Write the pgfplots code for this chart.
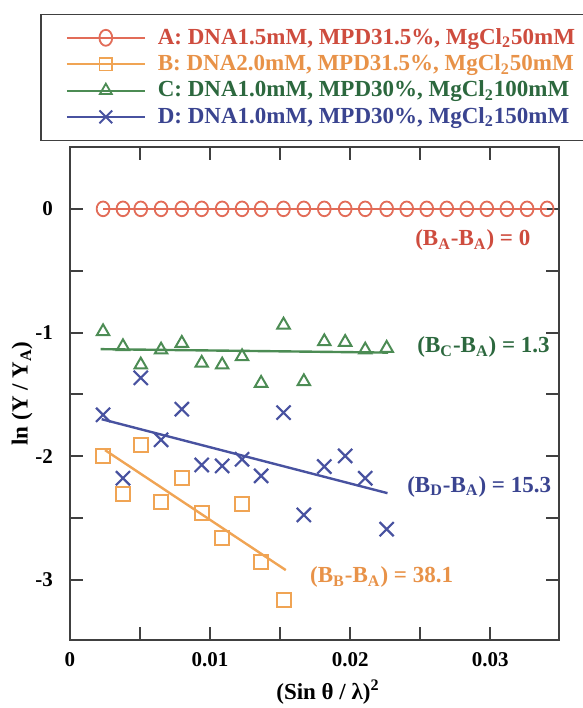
\documentclass[border=0pt]{standalone}
\usepackage{fontspec}
\setmainfont{Liberation Serif}
\usepackage{pgfplots}
\pgfplotsset{compat=1.18}
\definecolor{Aline}{RGB}{226,108,88}
\definecolor{Atext}{RGB}{206,76,62}
\definecolor{Bline}{RGB}{240,164,84}
\definecolor{Btext}{RGB}{232,146,72}
\definecolor{Cline}{RGB}{76,140,84}
\definecolor{Ctext}{RGB}{44,104,62}
\definecolor{Dline}{RGB}{72,82,160}
\definecolor{Dtext}{RGB}{58,68,144}
\definecolor{Frame}{RGB}{64,64,64}
\newcommand{\lbl}{\fontsize{11.5}{13}\selectfont\bfseries}

\begin{document}
\begin{tikzpicture}
\useasboundingbox (-35pt,-34pt) rectangle (256.5pt,320pt);
\clip (-35pt,-34pt) rectangle (256.5pt,320pt);
\begin{axis}[
  width=244.5pt, height=246.5pt, scale only axis,
  xmin=0, xmax=0.0349, ymin=-3.485, ymax=0.5,
  axis line style={line width=1.3pt, Frame},
  tick align=inside,
  major tick length=6.5pt, minor tick length=6.5pt,
  every tick/.style={line width=1pt, Frame},
  scaled x ticks=false,
  xtick={0,0.01,0.02,0.03}, xticklabels={0,0.01,0.02,0.03},
  minor xtick={0.005,0.015,0.025},
  ytick={0,-1,-2,-3}, yticklabels={0,-1,-2,-3},
  minor ytick={-0.5,-1.5,-2.5},
  tick label style={font=\fontsize{10.5}{12}\selectfont\bfseries, /pgf/number format/assume math mode=true},
  xticklabel style={yshift=-2.5pt},
  yticklabel style={xshift=-5pt},
  xlabel={(Sin θ / λ)\textsuperscript{2}},
  ylabel={ln (Y / Y\textsubscript{A})},
  label style={font=\lbl},
  xlabel style={at={(axis description cs:0.5276,-0.1055)}, anchor=center},
  ylabel style={at={(axis description cs:-0.0982,0.5)}, anchor=center},
  legend image code/.code={\draw[mark repeat=2,mark phase=2] plot coordinates {(0pt,0pt) (19.5pt,0pt) (39pt,0pt)};},
  legend cell align=left,
  legend style={at={(-0.0613,1.2708)}, anchor=north west, draw=Frame, line width=0.8pt,
    inner xsep=12.5pt, inner ysep=6pt, row sep=1.7pt, column sep=5pt,
    font=\lbl, nodes={inner sep=1pt}},
]
% fit lines
\addplot[Bline, line width=1.2pt, forget plot] coordinates {(0.0025,-1.95) (0.0154,-2.92)};
\addplot[Cline, line width=1.2pt, forget plot] coordinates {(0.00218,-1.134) (0.0227,-1.162)};
\addplot[Dline, line width=1.2pt, forget plot] coordinates {(0.00226,-1.700) (0.02266,-2.298)};
% A
\addplot[Aline, line width=1pt, mark=o, mark size=3.2pt, mark options={line width=0.9pt, yscale=1.15}, forget plot] coordinates {
(0.00236,0) (0.00378,0) (0.00505,0) (0.00650,0) (0.00798,0) (0.00940,0) (0.01086,0) (0.01228,0)
(0.01364,0) (0.01524,0) (0.01669,0) (0.01815,0) (0.01964,0) (0.02107,0) (0.02260,0) (0.02403,0)
(0.02546,0) (0.02689,0) (0.02832,0) (0.02975,0) (0.03118,0) (0.03262,0) (0.03405,0)};
% B
\addplot[Bline, only marks, mark=square, mark size=3.5pt, mark options={line width=1pt}, forget plot] coordinates {
(0.00236,-1.997) (0.00378,-2.306) (0.00505,-1.908) (0.00650,-2.366) (0.00798,-2.177)
(0.00940,-2.460) (0.01086,-2.662) (0.01228,-2.385) (0.01364,-2.851) (0.01524,-3.161)};
% C
\addplot[Cline, only marks, mark=triangle, mark size=3.6pt, mark options={line width=1pt}, forget plot] coordinates {
(0.00236,-0.992) (0.00378,-1.113) (0.00505,-1.261) (0.00650,-1.140) (0.00798,-1.086)
(0.00940,-1.247) (0.01086,-1.261) (0.01228,-1.194) (0.01364,-1.409) (0.01524,-0.938)
(0.01669,-1.396) (0.01815,-1.073) (0.01964,-1.078) (0.02107,-1.140) (0.02260,-1.126)};
% D
\addplot[Dline, only marks, mark=x, mark size=5pt, mark options={line width=1.1pt}, forget plot] coordinates {
(0.00236,-1.665) (0.00378,-2.177) (0.00505,-1.366) (0.00650,-1.867) (0.00798,-1.619)
(0.00940,-2.070) (0.01086,-2.078) (0.01228,-2.024) (0.01364,-2.158) (0.01524,-1.647)
(0.01669,-2.474) (0.01815,-2.083) (0.01964,-1.997) (0.02107,-2.177) (0.02260,-2.589)};

\addlegendimage{Aline, line width=1pt, mark=o, mark size=3.2pt, mark options={line width=0.9pt, yscale=1.25}}
\addlegendentry[text=Atext]{A: DNA1.5mM, MPD31.5\%, MgCl\textsubscript{2}50mM}
\addlegendimage{Bline, line width=1pt, mark=square, mark size=3.2pt, mark options={line width=0.9pt}}
\addlegendentry[text=Btext]{B: DNA2.0mM, MPD31.5\%, MgCl\textsubscript{2}50mM}
\addlegendimage{Cline, line width=1pt, mark=triangle, mark size=3.4pt, mark options={line width=0.9pt}}
\addlegendentry[text=Ctext]{C: DNA1.0mM, MPD30\%, MgCl\textsubscript{2}100mM}
\addlegendimage{Dline, line width=1pt, mark=x, mark size=4.5pt, mark options={line width=1pt}}
\addlegendentry[text=Dtext]{D: DNA1.0mM, MPD30\%, MgCl\textsubscript{2}150mM}

\node[anchor=west, text=Atext, font=\lbl] at (axis cs:0.02414,-0.251) {(B\textsubscript{A}-B\textsubscript{A}) = 0};
\node[anchor=west, text=Ctext, font=\lbl] at (axis cs:0.02429,-1.116) {(B\textsubscript{C}-B\textsubscript{A}) = 1.3};
\node[anchor=west, text=Dtext, font=\lbl] at (axis cs:0.02357,-2.247) {(B\textsubscript{D}-B\textsubscript{A}) = 15.3};
\node[anchor=west, text=Btext, font=\lbl] at (axis cs:0.01664,-2.975) {(B\textsubscript{B}-B\textsubscript{A}) = 38.1};
\end{axis}
\end{tikzpicture}
\end{document}
